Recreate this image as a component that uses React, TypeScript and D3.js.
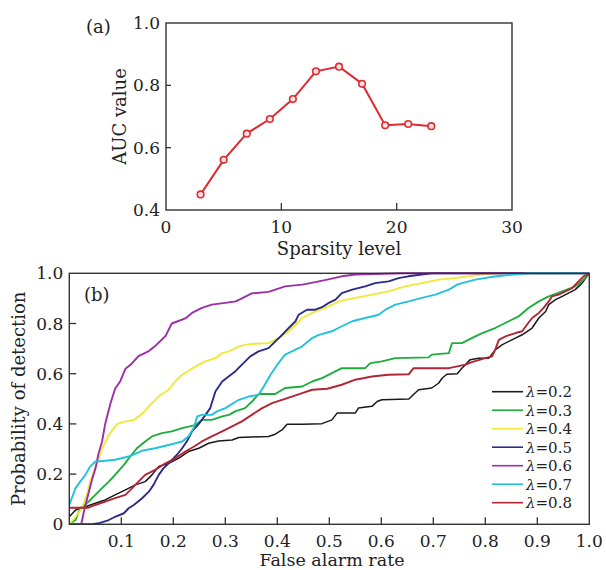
import React from "react";
import * as d3 from "d3";

// ---------- Panel (a) data ----------
const sparsityLevels = [3, 5, 7, 9, 11, 13, 15, 17, 19, 21, 23];
const aucValues = [0.45, 0.561, 0.645, 0.692, 0.756, 0.845, 0.86, 0.805, 0.672, 0.676, 0.669];
const sparsityTicks = [0, 10, 20, 30];
const aucTicks = [0.4, 0.6, 0.8, 1.0];

// ---------- Panel (b) data (ROC curves: [false alarm rate, probability of detection]) ----------
const roc02: [number, number][] = [[0,0.03],[0.012,0.057],[0.031,0.07],[0.05,0.084],[0.069,0.097],[0.088,0.117],[0.108,0.137],[0.127,0.157],[0.146,0.17],[0.159,0.197],[0.172,0.23],[0.191,0.243],[0.21,0.263],[0.229,0.29],[0.249,0.303],[0.268,0.323],[0.287,0.332],[0.313,0.336],[0.326,0.346],[0.383,0.35],[0.396,0.359],[0.409,0.376],[0.419,0.399],[0.448,0.399],[0.486,0.401],[0.505,0.416],[0.515,0.443],[0.55,0.443],[0.556,0.463],[0.582,0.47],[0.592,0.489],[0.601,0.496],[0.653,0.499],[0.665,0.523],[0.672,0.536],[0.697,0.543],[0.71,0.562],[0.717,0.582],[0.726,0.598],[0.746,0.6],[0.755,0.622],[0.771,0.656],[0.787,0.662],[0.807,0.662],[0.819,0.695],[0.832,0.715],[0.851,0.735],[0.871,0.755],[0.89,0.782],[0.903,0.822],[0.916,0.848],[0.922,0.875],[0.935,0.895],[0.948,0.908],[0.96,0.921],[0.973,0.935],[0.986,0.961],[1,1]];
const roc03: [number, number][] = [[0,0],[0.012,0.017],[0.021,0.064],[0.037,0.09],[0.05,0.117],[0.063,0.144],[0.076,0.17],[0.088,0.197],[0.105,0.237],[0.117,0.27],[0.13,0.303],[0.146,0.33],[0.159,0.35],[0.178,0.363],[0.197,0.37],[0.217,0.383],[0.242,0.395],[0.255,0.416],[0.274,0.416],[0.294,0.43],[0.307,0.436],[0.319,0.45],[0.338,0.463],[0.352,0.49],[0.364,0.519],[0.396,0.519],[0.415,0.543],[0.448,0.549],[0.467,0.569],[0.486,0.582],[0.505,0.602],[0.524,0.622],[0.569,0.622],[0.579,0.642],[0.601,0.649],[0.627,0.662],[0.691,0.665],[0.697,0.676],[0.73,0.682],[0.736,0.722],[0.755,0.722],[0.774,0.742],[0.794,0.762],[0.819,0.782],[0.845,0.809],[0.864,0.828],[0.883,0.862],[0.903,0.888],[0.922,0.908],[0.948,0.928],[0.973,0.948],[0.989,0.975],[1,1]];
const roc04: [number, number][] = [[0,0],[0.015,0.037],[0.024,0.064],[0.034,0.117],[0.04,0.17],[0.047,0.21],[0.053,0.237],[0.063,0.3],[0.076,0.356],[0.092,0.4],[0.108,0.41],[0.124,0.416],[0.14,0.44],[0.156,0.476],[0.172,0.51],[0.191,0.536],[0.204,0.57],[0.217,0.596],[0.236,0.62],[0.249,0.636],[0.262,0.649],[0.281,0.662],[0.294,0.682],[0.307,0.689],[0.326,0.709],[0.345,0.718],[0.383,0.722],[0.403,0.742],[0.422,0.769],[0.435,0.795],[0.448,0.822],[0.467,0.842],[0.486,0.858],[0.499,0.868],[0.518,0.888],[0.55,0.902],[0.582,0.915],[0.614,0.928],[0.646,0.948],[0.678,0.961],[0.71,0.975],[0.742,0.981],[0.768,0.988],[0.8,0.997],[0.832,1],[1,1]];
const roc05: [number, number][] = [[0,0],[0.045,0],[0.056,0.004],[0.076,0.017],[0.088,0.03],[0.105,0.044],[0.114,0.064],[0.124,0.077],[0.14,0.104],[0.153,0.13],[0.162,0.157],[0.172,0.197],[0.181,0.223],[0.191,0.243],[0.207,0.277],[0.217,0.303],[0.226,0.33],[0.236,0.37],[0.249,0.4],[0.262,0.436],[0.271,0.463],[0.281,0.529],[0.294,0.569],[0.307,0.59],[0.319,0.609],[0.332,0.636],[0.348,0.669],[0.364,0.689],[0.383,0.702],[0.403,0.742],[0.422,0.782],[0.435,0.809],[0.441,0.835],[0.457,0.855],[0.473,0.855],[0.486,0.865],[0.499,0.882],[0.512,0.895],[0.524,0.921],[0.544,0.935],[0.569,0.948],[0.588,0.961],[0.614,0.968],[0.633,0.981],[0.652,0.988],[0.678,0.995],[0.697,1],[1,1]];
const roc06: [number, number][] = [[0,0],[0.023,0],[0.028,0.05],[0.034,0.1],[0.044,0.18],[0.05,0.22],[0.056,0.28],[0.063,0.33],[0.069,0.4],[0.079,0.48],[0.088,0.54],[0.098,0.57],[0.108,0.62],[0.12,0.64],[0.133,0.67],[0.153,0.69],[0.165,0.71],[0.185,0.75],[0.197,0.8],[0.21,0.81],[0.223,0.82],[0.236,0.842],[0.255,0.862],[0.274,0.875],[0.3,0.882],[0.32,0.888],[0.332,0.9],[0.351,0.92],[0.383,0.926],[0.415,0.948],[0.448,0.955],[0.473,0.965],[0.496,0.975],[0.524,0.988],[0.55,0.995],[0.64,1],[1,1]];
const roc07: [number, number][] = [[0,0.077],[0.012,0.144],[0.021,0.17],[0.031,0.197],[0.04,0.23],[0.05,0.25],[0.069,0.253],[0.088,0.257],[0.114,0.27],[0.14,0.293],[0.165,0.303],[0.191,0.316],[0.217,0.33],[0.229,0.35],[0.239,0.383],[0.246,0.43],[0.255,0.436],[0.274,0.436],[0.284,0.45],[0.3,0.463],[0.326,0.496],[0.345,0.509],[0.364,0.516],[0.374,0.549],[0.387,0.596],[0.4,0.636],[0.415,0.676],[0.435,0.696],[0.448,0.709],[0.467,0.742],[0.48,0.755],[0.505,0.769],[0.524,0.789],[0.544,0.809],[0.569,0.822],[0.595,0.835],[0.608,0.855],[0.627,0.875],[0.653,0.888],[0.678,0.902],[0.704,0.915],[0.73,0.935],[0.746,0.955],[0.755,0.961],[0.781,0.975],[0.807,0.984],[0.839,0.992],[0.883,1],[1,1]];
const roc08: [number, number][] = [[0,0.066],[0.037,0.066],[0.05,0.077],[0.069,0.09],[0.088,0.104],[0.108,0.117],[0.121,0.144],[0.133,0.17],[0.146,0.197],[0.165,0.217],[0.185,0.243],[0.204,0.263],[0.223,0.29],[0.24,0.31],[0.255,0.33],[0.274,0.35],[0.294,0.37],[0.313,0.39],[0.332,0.41],[0.351,0.436],[0.371,0.463],[0.39,0.483],[0.409,0.496],[0.428,0.509],[0.448,0.523],[0.467,0.536],[0.496,0.54],[0.524,0.556],[0.55,0.576],[0.582,0.589],[0.614,0.596],[0.653,0.598],[0.662,0.622],[0.73,0.622],[0.762,0.636],[0.774,0.646],[0.8,0.662],[0.813,0.669],[0.819,0.695],[0.826,0.735],[0.839,0.749],[0.858,0.762],[0.871,0.769],[0.88,0.795],[0.89,0.822],[0.903,0.842],[0.912,0.862],[0.922,0.888],[0.928,0.908],[0.941,0.915],[0.954,0.928],[0.967,0.941],[0.976,0.961],[0.989,0.988],[1,1]];

const lambdaLabels = ["0.2", "0.3", "0.4", "0.5", "0.6", "0.7", "0.8"];
const rocSeries = [roc02, roc03, roc04, roc05, roc06, roc07, roc08];
const rocColors = ["#1a1a1a", "#1fae3c", "#f0e838", "#2b2b8a", "#9b2fa8", "#22c2dc", "#b32636"];
const farTicks = [0.1, 0.2, 0.3, 0.4, 0.5, 0.6, 0.7, 0.8, 0.9, 1.0];
const pdTicks = [0, 0.2, 0.4, 0.6, 0.8, 1.0];

const FONT = "'DejaVu Serif', serif";
const AXIS = "#333";

export default function App() {
  // Panel (a) layout
  const ax = { l: 166, r: 512, t: 23, b: 210 };
  const xa = d3.scaleLinear().domain([0, 30]).range([ax.l, ax.r]);
  const ya = d3.scaleLinear().domain([0.4, 1.0]).range([ax.b, ax.t]);
  const lineA = d3
    .line<number>()
    .x((_, i) => xa(sparsityLevels[i]))
    .y((d) => ya(d));

  // Panel (b) layout
  const bx = { l: 69.3, r: 589.3, t: 273.3, b: 524.3 };
  const xb = d3.scaleLinear().domain([0, 1]).range([bx.l, bx.r]);
  const yb = d3.scaleLinear().domain([0, 1]).range([bx.b, bx.t]);
  const lineB = d3
    .line<[number, number]>()
    .x((d) => xb(d[0]))
    .y((d) => yb(d[1]));

  const legendX0 = 492;
  const legendX1 = 523;
  const legendY0 = 391.7;
  const legendDy = 18.5;

  return (
    <svg
      width={606}
      height={570}
      style={{ position: "absolute", left: 0, top: 0, background: "#fff" }}
      fontFamily={FONT}
    >
      <rect x={0} y={0} width={606} height={570} fill="#fff" />

      {/* ---------- Panel (a) ---------- */}
      <text x={86} y={33} fontSize={18} fill="#222">(a)</text>
      {sparsityTicks.slice(1, -1).map((t) => (
        <line key={"xat" + t} x1={xa(t)} x2={xa(t)} y1={ax.b} y2={ax.b - 7} stroke={AXIS} strokeWidth={1.3} />
      ))}
      {aucTicks.slice(1, -1).map((t) => (
        <line key={"yat" + t} x1={ax.l} x2={ax.l + 5} y1={ya(t)} y2={ya(t)} stroke={AXIS} strokeWidth={1.3} />
      ))}
      {sparsityTicks.map((t) => (
        <text key={"xal" + t} x={xa(t)} y={233} fontSize={17} textAnchor="middle" fill="#222">{t}</text>
      ))}
      {aucTicks.map((t) => (
        <text key={"yal" + t} x={ax.l - 6} y={ya(t)} dy="0.36em" fontSize={17} textAnchor="end" fill="#222">{t.toFixed(1)}</text>
      ))}
      <text x={339} y={255} fontSize={18} textAnchor="middle" fill="#222">Sparsity level</text>
      <text transform={`translate(126,${(ax.t + ax.b) / 2}) rotate(-90)`} fontSize={18} textAnchor="middle" fill="#222">AUC value</text>
      <path d={lineA(aucValues) || ""} fill="none" stroke="#de2a30" strokeWidth={2} />
      {aucValues.map((v, i) => (
        <circle key={"pa" + i} cx={xa(sparsityLevels[i])} cy={ya(v)} r={3.3} fill="#fbe3e3" stroke="#de2a30" strokeWidth={1.6} />
      ))}
      <rect x={ax.l} y={ax.t} width={ax.r - ax.l} height={ax.b - ax.t} fill="none" stroke={AXIS} strokeWidth={1.4} />

      {/* ---------- Panel (b) ---------- */}
      <defs>
        <clipPath id="clipB">
          <rect x={bx.l} y={bx.t - 2} width={bx.r - bx.l} height={bx.b - bx.t + 2} />
        </clipPath>
      </defs>
      <g clipPath="url(#clipB)">
        {rocSeries.map((s, i) => (
          <path key={"roc" + i} d={lineB(s) || ""} fill="none" stroke={rocColors[i]} strokeWidth={i === 0 ? 1.5 : 1.9} strokeLinejoin="round" />
        ))}
      </g>
      {farTicks.slice(0, -1).map((t) => (
        <line key={"xbt" + t} x1={xb(t)} x2={xb(t)} y1={bx.b} y2={bx.b - 7} stroke={AXIS} strokeWidth={1.3} />
      ))}
      {pdTicks.slice(1, -1).map((t) => (
        <line key={"ybt" + t} x1={bx.l} x2={bx.l + 7} y1={yb(t)} y2={yb(t)} stroke={AXIS} strokeWidth={1.3} />
      ))}
      {farTicks.map((t) => (
        <text key={"xbl" + t} x={xb(t)} y={547} fontSize={17} textAnchor="middle" fill="#222">{t.toFixed(1)}</text>
      ))}
      {pdTicks.map((t) => (
        <text key={"ybl" + t} x={bx.l - 6} y={yb(t)} dy="0.36em" fontSize={17} textAnchor="end" fill="#222">{t === 0 ? "0" : t.toFixed(1)}</text>
      ))}
      <text x={332} y={566} fontSize={17.5} textAnchor="middle" fill="#222">False alarm rate</text>
      <text transform={`translate(25,${(bx.t + bx.b) / 2}) rotate(-90)`} fontSize={18} textAnchor="middle" fill="#222">Probability of detection</text>
      <text x={84} y={301} fontSize={18} fill="#222">(b)</text>
      <rect x={bx.l} y={bx.t} width={bx.r - bx.l} height={bx.b - bx.t} fill="none" stroke={AXIS} strokeWidth={1.4} />

      {/* Legend */}
      {lambdaLabels.map((lab, i) => {
        const y = legendY0 + i * legendDy;
        return (
          <g key={"lg" + i}>
            <line x1={legendX0} x2={legendX1} y1={y} y2={y} stroke={rocColors[i]} strokeWidth={1.6} />
            <text x={legendX1 + 3} y={y} dy="0.36em" fontSize={15} fill="#222">
              <tspan fontStyle="italic">λ</tspan>={lab}
            </text>
          </g>
        );
      })}
    </svg>
  );
}
